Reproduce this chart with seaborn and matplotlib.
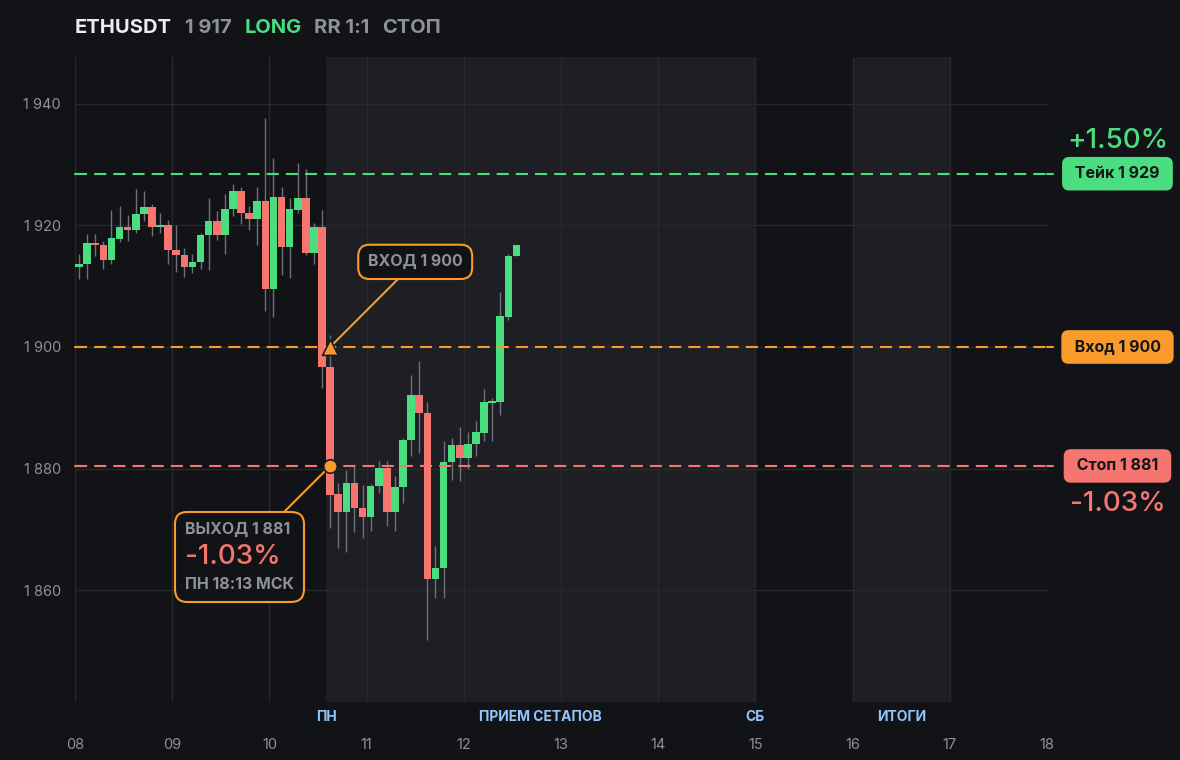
import numpy as np
import pandas as pd
import matplotlib
matplotlib.use("Agg")
import matplotlib.pyplot as plt
import seaborn as sns
from matplotlib.offsetbox import AnnotationBbox, TextArea, VPacker

# 2h candles, ETHUSDT
opens = [1913.1, 1913.6, 1917.1, 1916.8, 1914.3, 1917.8, 1919.8, 1919.2, 1921.8, 1923.1,
         1919.7, 1920.0, 1916.0, 1915.2, 1913.2, 1914.0, 1918.5, 1920.8, 1918.5, 1922.7,
         1925.7, 1922.1, 1921.0, 1924.0, 1909.6, 1924.7, 1916.4, 1922.6, 1924.5, 1915.5,
         1919.8, 1896.7, 1875.8, 1872.9, 1877.6, 1873.5, 1872.1, 1877.1, 1880.1, 1872.9,
         1877.0, 1884.7, 1892.1, 1889.1, 1861.8, 1863.6, 1881.1, 1883.9, 1881.7, 1884.0,
         1885.9, 1890.8, 1890.9, 1905.0, 1914.9]
highs = [1915.3, 1918.6, 1918.6, 1917.5, 1922.6, 1923.2, 1921.7, 1926.0, 1925.7, 1923.5,
         1922.1, 1920.9, 1920.1, 1916.2, 1915.3, 1918.8, 1924.5, 1922.4, 1925.2, 1926.8,
         1926.3, 1923.2, 1926.3, 1937.6, 1931.1, 1926.3, 1924.5, 1930.2, 1929.2, 1920.4,
         1922.6, 1902.0, 1877.6, 1879.8, 1880.6, 1877.3, 1877.5, 1881.2, 1881.2, 1878.7,
         1885.0, 1895.4, 1897.7, 1891.0, 1867.3, 1884.5, 1885.0, 1886.9, 1886.0, 1887.8,
         1893.1, 1891.6, 1909.1, 1915.3, 1916.8]
lows = [1911.2, 1911.1, 1914.9, 1912.9, 1913.7, 1917.3, 1917.4, 1918.8, 1920.8, 1918.3,
        1918.7, 1913.6, 1912.3, 1911.5, 1912.2, 1912.9, 1912.6, 1917.6, 1915.3, 1921.5,
        1920.3, 1919.3, 1916.7, 1906.0, 1904.9, 1911.8, 1911.4, 1922.0, 1915.2, 1913.6,
        1893.2, 1870.3, 1866.9, 1866.2, 1869.5, 1868.6, 1869.8, 1876.0, 1870.5, 1869.7,
        1874.3, 1882.0, 1882.6, 1851.8, 1858.7, 1858.7, 1878.2, 1877.9, 1879.9, 1882.0,
        1884.5, 1884.5, 1888.8, 1904.5, 1914.9]
closes = [1913.7, 1917.1, 1916.7, 1914.3, 1918.0, 1919.8, 1919.2, 1921.9, 1923.1, 1919.7,
          1920.0, 1916.0, 1915.2, 1913.2, 1914.0, 1918.5, 1920.8, 1918.5, 1922.7, 1925.7,
          1922.1, 1921.0, 1924.0, 1909.6, 1924.7, 1916.4, 1922.7, 1924.5, 1915.5, 1919.8,
          1896.7, 1875.7, 1872.9, 1877.6, 1873.5, 1872.1, 1877.2, 1880.1, 1872.9, 1877.0,
          1884.7, 1892.1, 1889.1, 1861.8, 1863.6, 1881.1, 1883.9, 1881.7, 1884.1, 1886.0,
          1890.9, 1891.1, 1905.1, 1915.0, 1916.8]

first_day = 8
bars_per_day = 12
day_ticks = list(range(8, 19))
day_labels = [f"{d:02d}" for d in day_ticks]
price_ticks = [1860, 1880, 1900, 1920, 1940]
price_labels = ["1 860", "1 880", "1 900", "1 920", "1 940"]

entry_price = 1900.0
take_price = 1928.5
stop_price = 1880.43
entry_bar = 31
exit_bar = 31

session_spans = [(10.583, 15.0), (16.0, 17.0)]
session_names = ["ПН", "ПРИЕМ СЕТАПОВ", "СБ", "ИТОГИ"]
session_pos = [10.583, 12.79, 15.0, 16.5]

# colours
BG = "#121317"
SHADE = "#1e1f24"
GRID = "#28292f"
GREEN = "#4ade80"
RED = "#f4766f"
ORANGE = "#f99b2a"
GRAY = "#8e9199"
WICK = "#6e7178"
BLUE = "#93c5fd"

sns.set_theme(style="dark", rc={
    "figure.facecolor": BG,
    "axes.facecolor": BG,
    "axes.edgecolor": BG,
    "grid.color": GRID,
    "text.color": GRAY,
    "xtick.color": GRAY,
    "ytick.color": GRAY,
})
plt.rcParams["font.family"] = ["Inter", "DejaVu Sans"]

df = pd.DataFrame({"open": opens, "high": highs, "low": lows, "close": closes})
df["t"] = first_day + (np.arange(len(df)) + 0.5) / bars_per_day
df["up"] = df["close"] >= df["open"]

fig = plt.figure(figsize=(11.8, 7.6), dpi=100)
ax = fig.add_axes([75 / 1180, 1 - 702 / 760, 972 / 1180, 645 / 760])
ax.set_xlim(8, 18)
ax.set_ylim(1841.6, 1947.7)

for a, b in session_spans:
    ax.axvspan(a, b, color=SHADE, zorder=0, lw=0)

ax.set_xticks(day_ticks)
ax.set_xticklabels(day_labels, fontsize=10.5)
ax.set_yticks(price_ticks)
ax.set_yticklabels(price_labels, fontsize=10.5)
ax.tick_params(axis="x", length=0, pad=26)
ax.tick_params(axis="y", length=0, pad=10)
ax.grid(True, color=GRID, lw=1, zorder=1)
ax.set_axisbelow(True)
for s in ax.spines.values():
    s.set_visible(False)

for name, pos in zip(session_names, session_pos):
    ax.text(pos, -0.023, name, transform=ax.get_xaxis_transform(), ha="center",
            va="center", color=BLUE, fontsize=10, fontweight="bold")

# candles
ax.vlines(df["t"], df["low"], df["high"], color=WICK, lw=1, zorder=2)
body = (df["close"] - df["open"]).abs().clip(lower=0.35)
ax.bar(df["t"], body, bottom=df[["open", "close"]].min(axis=1),
       width=0.95 / bars_per_day, color=np.where(df["up"], GREEN, RED),
       lw=0, zorder=3)

# trade levels
dash = (0, (5.8, 3.4))
for lvl, col in [(take_price, GREEN), (entry_price, ORANGE), (stop_price, RED)]:
    ax.axhline(lvl, color=col, lw=1.5, ls=dash, zorder=4)
    ax.plot([0, 0.006], [lvl, lvl], transform=ax.get_yaxis_transform(),
            color=col, lw=1.5, clip_on=False, zorder=4)
    ax.plot([1.0, 1.006], [lvl, lvl], transform=ax.get_yaxis_transform(),
            color=col, lw=1.5, clip_on=False, zorder=4)

# right side labels
pill = dict(fontsize=11.5, fontweight="bold", color="#141519", ha="center",
            va="center", transform=ax.get_yaxis_transform(), clip_on=False)
pill_box = "round,pad=0.58,rounding_size=0.45"
ax.text(1.0725, take_price, " Тейк 1 929 ", bbox=dict(boxstyle=pill_box, fc=GREEN, ec="none"), **pill)
ax.text(1.0725, entry_price, " Вход 1 900 ", bbox=dict(boxstyle=pill_box, fc=ORANGE, ec="none"), **pill)
ax.text(1.0725, stop_price, " Стоп 1 881 ", bbox=dict(boxstyle=pill_box, fc=RED, ec="none"), **pill)
take_pct = (take_price / entry_price - 1) * 100
stop_pct = (stop_price / entry_price - 1) * 100
ax.text(1.0725, take_price + 5.4, f"+{take_pct:.2f}%", transform=ax.get_yaxis_transform(),
        ha="center", va="center", color=GREEN, fontsize=20, fontweight="medium", clip_on=False)
ax.text(1.0725, stop_price - 6.2, f"{stop_pct:.2f}%", transform=ax.get_yaxis_transform(),
        ha="center", va="center", color=RED, fontsize=20, fontweight="medium", clip_on=False)

# entry / exit markers
entry_t = df["t"].iloc[entry_bar]
exit_t = df["t"].iloc[exit_bar]
ax.annotate("ВХОД 1 900", xy=(entry_t, entry_price), xytext=(11.5, 1914.0),
            ha="center", va="center", fontsize=11.5, fontweight="bold", color=GRAY,
            bbox=dict(boxstyle="round,pad=0.6,rounding_size=0.7", fc=BG, ec=ORANGE, lw=1.5),
            arrowprops=dict(arrowstyle="-", color=ORANGE, lw=1.5, shrinkA=0, shrinkB=0),
            zorder=7)

exit_box = VPacker(children=[
    TextArea("ВЫХОД 1 881", textprops=dict(color=GRAY, fontsize=11.5, fontweight="bold")),
    TextArea(f"{stop_pct:.2f}%", textprops=dict(color=RED, fontsize=20, fontweight="medium")),
    TextArea("ПН 18:13 МСК", textprops=dict(color=GRAY, fontsize=11.5, fontweight="bold")),
], align="left", pad=0, sep=5)
ab = AnnotationBbox(exit_box, (exit_t, stop_price), xybox=(9.69, 1865.5),
                    boxcoords="data", pad=0.65,
                    bboxprops=dict(boxstyle="round,pad=0.65,rounding_size=0.8",
                                   fc=BG, ec=ORANGE, lw=1.5),
                    arrowprops=dict(arrowstyle="-", color=ORANGE, lw=1.5,
                                    shrinkA=0, shrinkB=0),
                    zorder=7)
ax.add_artist(ab)

sns.scatterplot(x=[entry_t], y=[entry_price], marker="^", s=130, color=ORANGE,
                edgecolor="#1a1b20", linewidth=1.2, ax=ax, zorder=8)
sns.scatterplot(x=[exit_t], y=[stop_price], marker="o", s=95, color=ORANGE,
                edgecolor="#1a1b20", linewidth=1.2, ax=ax, zorder=8)

# header
header = [("ETHUSDT", 75, "#ececee"), ("1 917", 185, GRAY), ("LONG", 245, GREEN),
          ("RR 1:1", 314, GRAY), ("СТОП", 382, GRAY)]
for txt, px, col in header:
    fig.text(px / 1180, 1 - 28 / 760, txt, color=col, fontsize=14.5,
             fontweight="bold", va="center", ha="left")

fig.savefig("out.png", dpi=100, facecolor=BG)
